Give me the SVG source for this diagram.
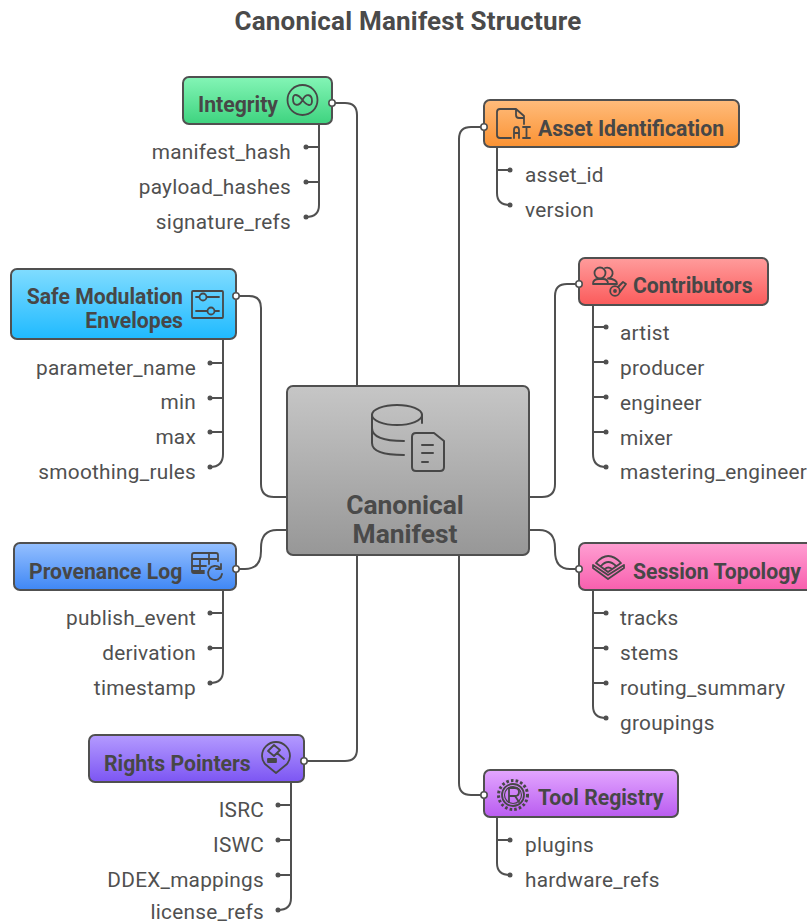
<svg xmlns="http://www.w3.org/2000/svg" width="807" height="924" viewBox="0 0 807 924">
<style>
text{font-family:Roboto,"Liberation Sans",sans-serif;fill:#4a4a4a}
.t{font-size:21.2px;font-weight:700;fill:#474747}
.l{font-size:20.8px;fill:#505050;letter-spacing:.25px}
.e{text-anchor:end}
.n{stroke:#505050;stroke-width:2}
.c{fill:none;stroke:#505050;stroke-width:2}
.i{fill:none;stroke:#474747;stroke-width:1.8;stroke-linecap:round;stroke-linejoin:round}
.p{fill:#fff;stroke:#505050;stroke-width:1.6}
.d{fill:#505050}
</style>
<defs>
<linearGradient id="gG" x1="0" y1="0" x2="0" y2="1"><stop offset="0" stop-color="#84f5b6"/><stop offset="1" stop-color="#3ed37f"/></linearGradient>
<linearGradient id="gB" x1="0" y1="0" x2="0" y2="1"><stop offset="0" stop-color="#80dcff"/><stop offset="1" stop-color="#1fbaff"/></linearGradient>
<linearGradient id="gU" x1="0" y1="0" x2="0" y2="1"><stop offset="0" stop-color="#95c0ff"/><stop offset="1" stop-color="#3f87f5"/></linearGradient>
<linearGradient id="gV" x1="0" y1="0" x2="0" y2="1"><stop offset="0" stop-color="#b49bff"/><stop offset="1" stop-color="#7c55f3"/></linearGradient>
<linearGradient id="gO" x1="0" y1="0" x2="0" y2="1"><stop offset="0" stop-color="#ffbc7c"/><stop offset="1" stop-color="#fb9232"/></linearGradient>
<linearGradient id="gR" x1="0" y1="0" x2="0" y2="1"><stop offset="0" stop-color="#ff9c9c"/><stop offset="1" stop-color="#fb5b5b"/></linearGradient>
<linearGradient id="gP" x1="0" y1="0" x2="0" y2="1"><stop offset="0" stop-color="#ff9fd2"/><stop offset="1" stop-color="#f85fae"/></linearGradient>
<linearGradient id="gM" x1="0" y1="0" x2="0" y2="1"><stop offset="0" stop-color="#e3a6ff"/><stop offset="1" stop-color="#b95cf0"/></linearGradient>
<linearGradient id="gC" x1="0" y1="0" x2="0" y2="1"><stop offset="0" stop-color="#c6c6c6"/><stop offset="1" stop-color="#979797"/></linearGradient>
</defs>
<rect width="807" height="924" fill="#fff"/>
<text x="408" y="30" text-anchor="middle" style="font-size:26px;font-weight:700;letter-spacing:.2px">Canonical Manifest Structure</text>
<g id="connectors">
<path class="c" d="M332 103H345Q357 103 357 115V386"/>
<path class="c" d="M484 127H471Q459 127 459 139V386"/>
<path class="c" d="M236 296H249Q261 296 261 308V484Q261 497 274 497H287"/>
<path class="c" d="M579 284H567Q555 284 555 296V484Q555 497 542 497H529"/>
<path class="c" d="M236 569H245Q261 569 261 551V548Q261 530 277 530H287"/>
<path class="c" d="M579 569H570Q555 569 555 551V548Q555 530 539 530H529"/>
<path class="c" d="M304 761H345Q357 761 357 749V555"/>
<path class="c" d="M484 795H471Q459 795 459 783V555"/>
<path class="c" d="M319 124V205Q319 217 306 217"/>
<path class="c" d="M319 147H306M319 182H306"/>
<path class="c" d="M497 148V193Q497 205 510 205"/>
<path class="c" d="M497 170H510"/>
<path class="c" d="M223 340V454Q223 467 210 467"/>
<path class="c" d="M223 363H210M223 398H210M223 432H210"/>
<path class="c" d="M593 305V454Q593 467 606 467"/>
<path class="c" d="M593 327H606M593 362H606M593 397H606M593 432H606"/>
<path class="c" d="M223 590V671Q223 683 210 683"/>
<path class="c" d="M223 613H210M223 648H210"/>
<path class="c" d="M593 590V706Q593 718 606 718"/>
<path class="c" d="M593 613H606M593 648H606M593 683H606"/>
<path class="c" d="M291 782V898Q291 910 278 910"/>
<path class="c" d="M291 805H278M291 840H278M291 875H278"/>
<path class="c" d="M497 817V863Q497 875 510 875"/>
<path class="c" d="M497 840H510"/>
</g>
<g id="dots">
<circle class="d" cx="306" cy="147" r="2.500"/><circle class="d" cx="306" cy="182" r="2.500"/><circle class="d" cx="306" cy="217" r="2.500"/>
<circle class="d" cx="510" cy="170" r="2.500"/><circle class="d" cx="510" cy="205" r="2.500"/>
<circle class="d" cx="210" cy="363" r="2.500"/><circle class="d" cx="210" cy="398" r="2.500"/><circle class="d" cx="210" cy="432" r="2.500"/><circle class="d" cx="210" cy="467" r="2.500"/>
<circle class="d" cx="606" cy="327" r="2.500"/><circle class="d" cx="606" cy="362" r="2.500"/><circle class="d" cx="606" cy="397" r="2.500"/><circle class="d" cx="606" cy="432" r="2.500"/><circle class="d" cx="606" cy="467" r="2.500"/>
<circle class="d" cx="210" cy="613" r="2.500"/><circle class="d" cx="210" cy="648" r="2.500"/><circle class="d" cx="210" cy="683" r="2.500"/>
<circle class="d" cx="606" cy="613" r="2.500"/><circle class="d" cx="606" cy="648" r="2.500"/><circle class="d" cx="606" cy="683" r="2.500"/><circle class="d" cx="606" cy="718" r="2.500"/>
<circle class="d" cx="278" cy="805" r="2.500"/><circle class="d" cx="278" cy="840" r="2.500"/><circle class="d" cx="278" cy="875" r="2.500"/><circle class="d" cx="278" cy="910" r="2.500"/>
<circle class="d" cx="510" cy="840" r="2.500"/><circle class="d" cx="510" cy="875" r="2.500"/>
</g>
<g id="center">
<rect class="n" x="287" y="386" width="242" height="169" rx="6" fill="url(#gC)"/>
<g class="i" style="stroke-width:2">
<ellipse cx="397" cy="415" rx="25" ry="10"/><path d="M372 415V443Q372 455 404 455M372 428Q372 441 404 441M422 415V423"/>
<path d="M412 437Q412 433 416 433H434L444 441V467Q444 471 440 471H416Q412 471 412 467ZM422 445H433M422 453H433M422 462H428"/>
</g>
<text x="405" y="514" text-anchor="middle" style="font-size:26.400px;font-weight:700">Canonical</text>
<text x="405" y="543" text-anchor="middle" style="font-size:26.400px;font-weight:700">Manifest</text>
</g>
<g id="integrity">
<rect class="n" x="183" y="77" width="149" height="47" rx="6" fill="url(#gG)"/>
<text class="t" x="198" y="112">Integrity</text>
<g class="i"><circle cx="302.500" cy="100" r="15"/><path d="M302.500 100C298 94 293 93 293 99C293 106 299 107 302.500 100C306 93 312 94 312 101C312 107 307 106 302.500 100Z"/></g>
<circle class="p" cx="332" cy="103" r="3.200"/>
</g>
<g id="manifest-hash"><text class="l e" x="291" y="159">manifest_hash</text></g>
<g id="payload-hashes"><text class="l e" x="291" y="194">payload_hashes</text></g>
<g id="signature-refs"><text class="l e" x="291" y="229">signature_refs</text></g>
<g id="asset-identification">
<rect class="n" x="484" y="100" width="255" height="47" rx="6" fill="url(#gO)"/>
<text class="t" x="538" y="136">Asset Identification</text>
<g class="i"><path d="M524 124V116L516 109H500Q497 109 497 112V135Q497 138 500 138H511M516 109V115Q516 118 519 118H524"/><path d="M514 138V130Q514 127 516.500 127T519 130V138M514 133H519M523 127H530M526.500 127V138M523 138H530"/></g>
<circle class="p" cx="484" cy="127" r="3.200"/>
</g>
<g id="asset-id"><text class="l" x="525" y="182">asset_id</text></g>
<g id="version"><text class="l" x="525" y="217">version</text></g>
<g id="contributors">
<rect class="n" x="579" y="258" width="189" height="47" rx="6" fill="url(#gR)"/>
<text class="t" x="633" y="293">Contributors</text>
<g class="i"><circle cx="600" cy="273" r="5.500"/><path d="M593 284Q593 279 599 279H603Q608 279 608 284ZM605 268A5.500 5.500 0 1 1 608 278.500Q617 279 617 284H608"/><circle cx="615" cy="291" r="4.800"/><circle cx="615" cy="291" r="1"/><path d="M618 287L623 282L626 284L620 292"/></g>
<circle class="p" cx="579" cy="284" r="3.200"/>
</g>
<g id="artist"><text class="l" x="620" y="340">artist</text></g>
<g id="producer"><text class="l" x="620" y="375">producer</text></g>
<g id="engineer"><text class="l" x="620" y="410">engineer</text></g>
<g id="mixer"><text class="l" x="620" y="445">mixer</text></g>
<g id="mastering-engineer"><text class="l" x="620" y="479">mastering_engineer</text></g>
<g id="safe-modulation">
<rect class="n" x="11" y="269" width="225" height="70" rx="6" fill="url(#gB)"/>
<text class="t e" x="183" y="304">Safe Modulation</text>
<text class="t e" x="183" y="328">Envelopes</text>
<g class="i"><rect x="192" y="291" width="31" height="27" rx="1"/><circle cx="203" cy="297" r="3.500"/><circle cx="211" cy="311" r="3.500"/><path d="M196 297H199M207 297H219M196 311H207M215 311H219"/></g>
<circle class="p" cx="236" cy="296" r="3.200"/>
</g>
<g id="parameter-name"><text class="l e" x="196" y="375">parameter_name</text></g>
<g id="min"><text class="l e" x="196" y="409">min</text></g>
<g id="max"><text class="l e" x="196" y="444">max</text></g>
<g id="smoothing-rules"><text class="l e" x="196" y="479">smoothing_rules</text></g>
<g id="provenance-log">
<rect class="n" x="14" y="543" width="222" height="47" rx="6" fill="url(#gU)"/>
<text class="t" x="29" y="579">Provenance Log</text>
<g class="i"><path d="M204 573H194Q192 573 192 571V555Q192 553 194 553H216Q218 553 218 555V561M192 559H218M192 566H206M192 571H204M200 559V573M209 553V564"/><path d="M222 574A7 7 0 1 1 220 568M221 564V569H216"/></g>
<circle class="p" cx="236" cy="569" r="3.200"/>
</g>
<g id="publish-event"><text class="l e" x="196" y="625">publish_event</text></g>
<g id="derivation"><text class="l e" x="196" y="660">derivation</text></g>
<g id="timestamp"><text class="l e" x="196" y="695">timestamp</text></g>
<g id="session-topology">
<rect class="n" x="579" y="543" width="240" height="47" rx="6" fill="url(#gP)"/>
<text class="t" x="633" y="579">Session Topology</text>
<g class="i"><path d="M593 565V568L608 579L624 568V565L608 575ZM596 563Q608 549 621 563L608 572ZM601 566Q608 558 616 566M605 569Q608 566 612 569"/></g>
<circle class="p" cx="579" cy="569" r="3.200"/>
</g>
<g id="tracks"><text class="l" x="620" y="625">tracks</text></g>
<g id="stems"><text class="l" x="620" y="660">stems</text></g>
<g id="routing-summary"><text class="l" x="620" y="695">routing_summary</text></g>
<g id="groupings"><text class="l" x="620" y="730">groupings</text></g>
<g id="rights-pointers">
<rect class="n" x="89" y="735" width="215" height="47" rx="6" fill="url(#gV)"/>
<text class="t" x="104" y="771">Rights Pointers</text>
<g class="i"><path d="M276 773L265 764Q262 760 262 756A14 14 0 0 1 290 756Q290 760 287 764ZM268 751L274 745L280 750L274 756ZM277 753L284 759"/><path d="M268 759H276V762H268Z" fill="#474747"/></g>
<circle class="p" cx="304" cy="761" r="3.200"/>
</g>
<g id="isrc"><text class="l e" x="264" y="817">ISRC</text></g>
<g id="iswc"><text class="l e" x="264" y="852">ISWC</text></g>
<g id="ddex"><text class="l e" x="264" y="887">DDEX_mappings</text></g>
<g id="license-refs"><text class="l e" x="264" y="918.500">license_refs</text></g>
<g id="tool-registry">
<rect class="n" x="484" y="770" width="194" height="47" rx="6" fill="url(#gM)"/>
<text class="t" x="538" y="805">Tool Registry</text>
<g class="i"><circle cx="513" cy="795" r="11"/><circle cx="513" cy="795" r="8.500" stroke-width="1.200"/><circle cx="513" cy="795" r="14.500" stroke-dasharray="2.600 2.100" stroke-width="3" style="stroke-linecap:butt"/><path d="M509 802V788H515Q519 788 519 792T515 796H509M515 796L519 802"/></g>
<circle class="p" cx="484" cy="795" r="3.200"/>
</g>
<g id="plugins"><text class="l" x="525" y="852">plugins</text></g>
<g id="hardware-refs"><text class="l" x="525" y="887">hardware_refs</text></g>
</svg>
